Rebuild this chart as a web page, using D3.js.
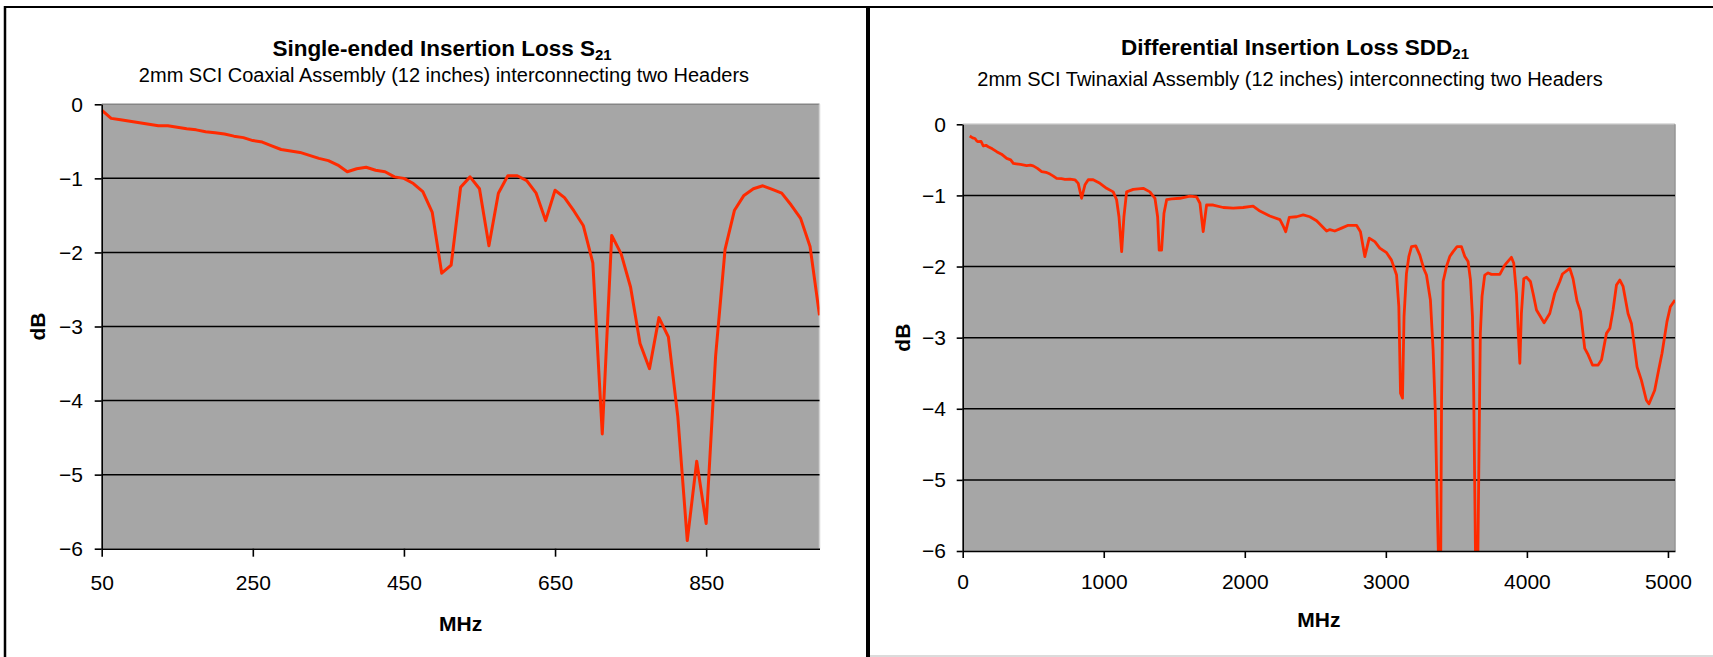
<!DOCTYPE html>
<html>
<head>
<meta charset="utf-8">
<script src="https://cdn.jsdelivr.net/npm/d3@7"></script>
<style>
  body { margin: 0; background: #fff; }
  svg { display: block; font-family: "Liberation Sans", Arial, sans-serif; }
  .tick text { font-size: 21px; fill: #000; }
  .axis path, .axis line { stroke: #000; stroke-width: 1.6; }
</style>
</head>
<body>
<div class="chart"></div>
<script>
// single-ended S21, coax assembly (MHz, dB)
var coaxFreq = [50, 62.5, 75, 87.5, 100, 112.5, 125, 137.5, 150, 162.5, 175, 187.5, 200, 212.5, 225, 237.5,
  250, 262.5, 275, 287.5, 300, 312.5, 325, 337.5, 350, 362.5, 375, 387.5, 400, 412.5, 425, 437.5,
  450, 462.5, 475, 487.5, 500, 512.5, 525, 537.5, 550, 562.5, 575, 587.5, 600, 612.5, 625, 637.5,
  650, 662.5, 675, 687.5, 700, 712.5, 725, 737.5, 750, 762.5, 775, 787.5, 800, 812.5, 825, 837.5,
  850, 862.5, 875, 887.5, 900, 912.5, 925, 937.5, 950, 962.5, 975, 987.5, 1000];
var coaxLoss = [-0.08, -0.19, -0.21, -0.23, -0.25, -0.27, -0.29, -0.29, -0.31, -0.33, -0.345, -0.37, -0.385, -0.40, -0.43, -0.45,
  -0.49, -0.51, -0.56, -0.61, -0.63, -0.65, -0.69, -0.73, -0.76, -0.82, -0.91, -0.87, -0.85, -0.89, -0.91, -0.98,
  -1.00, -1.07, -1.18, -1.46, -2.28, -2.17, -1.12, -0.98, -1.14, -1.91, -1.20, -0.965, -0.965, -1.03, -1.20, -1.57,
  -1.16, -1.26, -1.44, -1.64, -2.14, -4.45, -1.77, -2.02, -2.47, -3.23, -3.57, -2.88, -3.14, -4.22, -5.89, -4.82,
  -5.66, -3.40, -1.96, -1.43, -1.23, -1.14, -1.10, -1.15, -1.20, -1.36, -1.54, -1.92, -2.85];

// differential SDD21, twinax assembly (MHz, dB)
var twinFreq = [50, 70, 87, 100, 110, 130, 146, 165, 181, 210, 241, 275, 312, 340, 359, 380, 410, 453, 480, 500, 530, 560, 590, 619, 640, 666, 700, 725, 760, 796, 819, 843, 867, 890, 925,
  973, 1020, 1067, 1091, 1108, 1127, 1143, 1162, 1209, 1280, 1327, 1363, 1382, 1393, 1410, 1427, 1446, 1481, 1540, 1611,
  1658, 1682, 1705, 1729, 1776, 1847, 1918, 1988, 2059, 2107, 2177, 2249, 2270, 2290, 2315, 2367, 2414, 2461, 2509, 2580,
  2603, 2638, 2686, 2733, 2792, 2820, 2851, 2882, 2922, 2957, 3005, 3040, 3076, 3092, 3104, 3118, 3129, 3146, 3163, 3182,
  3212, 3241, 3269, 3288, 3316, 3335, 3350, 3366, 3378, 3388, 3395, 3406, 3430, 3453, 3477, 3505, 3536, 3560, 3583, 3600,
  3614, 3623, 3638, 3650, 3666, 3670, 3682, 3701, 3725, 3749, 3808, 3843, 3890, 3907, 3926, 3937, 3950, 3961, 3978, 3997,
  4025, 4044, 4068, 4122, 4162, 4197, 4233, 4252, 4304, 4327, 4356, 4380, 4410, 4434, 4465, 4505, 4529, 4564, 4588, 4611,
  4635, 4659, 4682, 4717, 4741, 4781, 4812, 4847, 4866, 4906, 4934, 4958, 4993, 5017, 5050];
var twinLoss = [-0.165, -0.19, -0.20, -0.235, -0.245, -0.24, -0.305, -0.295, -0.315, -0.345, -0.385, -0.42, -0.48, -0.50, -0.55, -0.555, -0.565, -0.58, -0.575, -0.585, -0.62, -0.665, -0.675, -0.70, -0.725, -0.76, -0.765, -0.775, -0.77, -0.78, -0.83, -1.04, -0.85, -0.78, -0.78,
  -0.83, -0.90, -0.95, -1.06, -1.30, -1.79, -1.30, -0.95, -0.915, -0.90, -0.95, -1.04, -1.30, -1.77, -1.77, -1.25, -1.06, -1.05, -1.04, -1.01,
  -1.02, -1.11, -1.51, -1.135, -1.135, -1.17, -1.18, -1.17, -1.15, -1.22, -1.29, -1.34, -1.42, -1.51, -1.31, -1.30, -1.275, -1.30, -1.355, -1.50,
  -1.48, -1.50, -1.46, -1.42, -1.42, -1.51, -1.86, -1.60, -1.65, -1.74, -1.805, -1.91, -2.12, -2.56, -3.78, -3.85, -2.70, -2.10, -1.86, -1.72,
  -1.71, -1.84, -2.03, -2.12, -2.47, -3.17, -4.0, -5.5, -6.5, -6.5, -3.88, -2.21, -2.0, -1.86, -1.79, -1.72, -1.72, -1.86, -1.93, -2.19,
  -2.70, -3.78, -6.5, -6.5, -3.6, -2.94, -2.42, -2.12, -2.09, -2.11, -2.11, -1.98, -1.87, -1.955, -2.38, -2.85, -3.36, -2.66, -2.17, -2.15,
  -2.21, -2.38, -2.61, -2.79, -2.66, -2.38, -2.21, -2.105, -2.025, -2.17, -2.49, -2.63, -3.15, -3.24, -3.385, -3.385, -3.31, -2.94, -2.87, -2.61,
  -2.26, -2.19, -2.28, -2.66, -2.80, -3.41, -3.60, -3.88, -3.93, -3.74, -3.455, -3.22, -2.775, -2.565, -2.47];

var dbTicks = [0, -1, -2, -3, -4, -5, -6];
var coaxTicks = [50, 250, 450, 650, 850];
var twinTicks = [0, 1000, 2000, 3000, 4000, 5000];

var svgWidth = 1713;
var svgHeight = 657;

var svg = d3.select(".chart")
  .append("svg")
  .attr("width", svgWidth)
  .attr("height", svgHeight);

// outer frames of the two chart panels
svg.append("line").attr("x1", 4).attr("x2", svgWidth).attr("y1", 7).attr("y2", 7)
  .attr("stroke", "#000").attr("stroke-width", 2);
svg.append("line").attr("x1", 5).attr("x2", 5).attr("y1", 6).attr("y2", svgHeight)
  .attr("stroke", "#000").attr("stroke-width", 2.5);
svg.append("line").attr("x1", 868).attr("x2", 868).attr("y1", 6).attr("y2", svgHeight)
  .attr("stroke", "#000").attr("stroke-width", 4);
svg.append("line").attr("x1", 870).attr("x2", svgWidth).attr("y1", 656).attr("y2", 656)
  .attr("stroke", "#cfcfcf").attr("stroke-width", 1.5);

function drawPanel(p) {
  var xScale = d3.scaleLinear().domain(p.xDomain).range([p.left, p.right]);
  var yScale = d3.scaleLinear().domain([-6, 0]).range([p.bottom, p.top]);

  // plot area
  svg.append("rect")
    .attr("x", p.left).attr("y", p.top)
    .attr("width", p.right - p.left).attr("height", p.bottom - p.top)
    .attr("fill", "#a6a6a6");
  svg.append("line").attr("x1", p.left).attr("x2", p.right).attr("y1", p.top).attr("y2", p.top)
    .attr("stroke", p.topEdge).attr("stroke-width", 1.5);
  svg.append("line").attr("x1", p.right).attr("x2", p.right).attr("y1", p.top).attr("y2", p.bottom)
    .attr("stroke", p.rightEdge).attr("stroke-width", 1.5);

  // gridlines
  svg.append("g")
    .selectAll("line")
    .data(dbTicks.filter(d => d > -6 && d < 0))
    .enter()
    .append("line")
    .attr("x1", p.left).attr("x2", p.right)
    .attr("y1", d => yScale(d)).attr("y2", d => yScale(d))
    .attr("stroke", "#000").attr("stroke-width", 1.5);

  // the curve, clipped to the plot area
  var clipId = "clip-" + p.name;
  svg.append("clipPath").attr("id", clipId)
    .append("rect")
    .attr("x", p.left).attr("y", p.top)
    .attr("width", p.right - p.left).attr("height", p.bottom - p.top);

  var line = d3.line()
    .x((d, i) => xScale(p.freq[i]))
    .y(d => yScale(d));

  svg.append("path")
    .datum(p.loss)
    .attr("clip-path", "url(#" + clipId + ")")
    .attr("d", line)
    .attr("fill", "none")
    .attr("stroke", "#ff2a00")
    .attr("stroke-width", p.lineWidth)
    .attr("stroke-linejoin", "round");

  // axes
  svg.append("g")
    .classed("axis", true)
    .attr("transform", `translate(${p.left}, 0)`)
    .call(d3.axisLeft(yScale).tickValues(dbTicks).tickSize(p.yTickSize).tickSizeOuter(0)
      .tickPadding(p.yPad).tickFormat(d3.format("d")))
    .call(g => g.selectAll(".tick text").attr("font-family", null).attr("font-size", null));

  svg.append("g")
    .classed("axis", true)
    .attr("transform", `translate(0, ${p.bottom})`)
    .call(d3.axisBottom(xScale).tickValues(p.ticks).tickSize(p.xTickSize).tickSizeOuter(0)
      .tickPadding(p.xPad).tickFormat(d3.format("d")))
    .call(g => g.selectAll(".tick text").attr("font-family", null).attr("font-size", null));

  // titles
  var title = svg.append("text")
    .attr("x", p.titleX).attr("y", p.titleY)
    .attr("text-anchor", "middle")
    .attr("font-size", 22.5).attr("font-weight", "bold");
  title.append("tspan").text(p.title);
  title.append("tspan").attr("dy", 4).attr("font-size", 15).text("21");

  svg.append("text")
    .attr("x", p.subX).attr("y", p.subY)
    .attr("text-anchor", "middle")
    .attr("font-size", 20)
    .text(p.subtitle);

  svg.append("text")
    .attr("x", (p.left + p.right) / 2).attr("y", p.mhzY)
    .attr("text-anchor", "middle")
    .attr("font-size", 21).attr("font-weight", "bold")
    .text("MHz");

  svg.append("text")
    .attr("transform", `translate(${p.dbX}, ${(p.top + p.bottom) / 2}) rotate(-90)`)
    .attr("text-anchor", "middle")
    .attr("font-size", 21).attr("font-weight", "bold")
    .text("dB");
}

drawPanel({
  name: "coax",
  freq: coaxFreq, loss: coaxLoss, ticks: coaxTicks, xDomain: [50, 1000],
  left: 101.7, right: 819.5, top: 104.3, bottom: 548.7,
  topEdge: "#858585", rightEdge: "#d4d4d4",
  yTickSize: 7, yPad: 11.7, xTickSize: 8, xPad: 18,
  lineWidth: 3,
  title: "Single-ended Insertion Loss S", titleX: 442, titleY: 56,
  subtitle: "2mm SCI Coaxial Assembly (12 inches) interconnecting two Headers", subX: 444, subY: 82,
  mhzY: 631, dbX: 44.5
});

drawPanel({
  name: "twin",
  freq: twinFreq, loss: twinLoss, ticks: twinTicks, xDomain: [0, 5050],
  left: 962.7, right: 1675, top: 124.3, bottom: 551,
  topEdge: "#bdbdbd", rightEdge: "#959595",
  yTickSize: 6, yPad: 10.7, xTickSize: 7, xPad: 16,
  lineWidth: 2.8,
  title: "Differential Insertion Loss SDD", titleX: 1295, titleY: 55,
  subtitle: "2mm SCI Twinaxial Assembly (12 inches) interconnecting two Headers", subX: 1290, subY: 86,
  mhzY: 627, dbX: 910
});
</script>
</body>
</html>
